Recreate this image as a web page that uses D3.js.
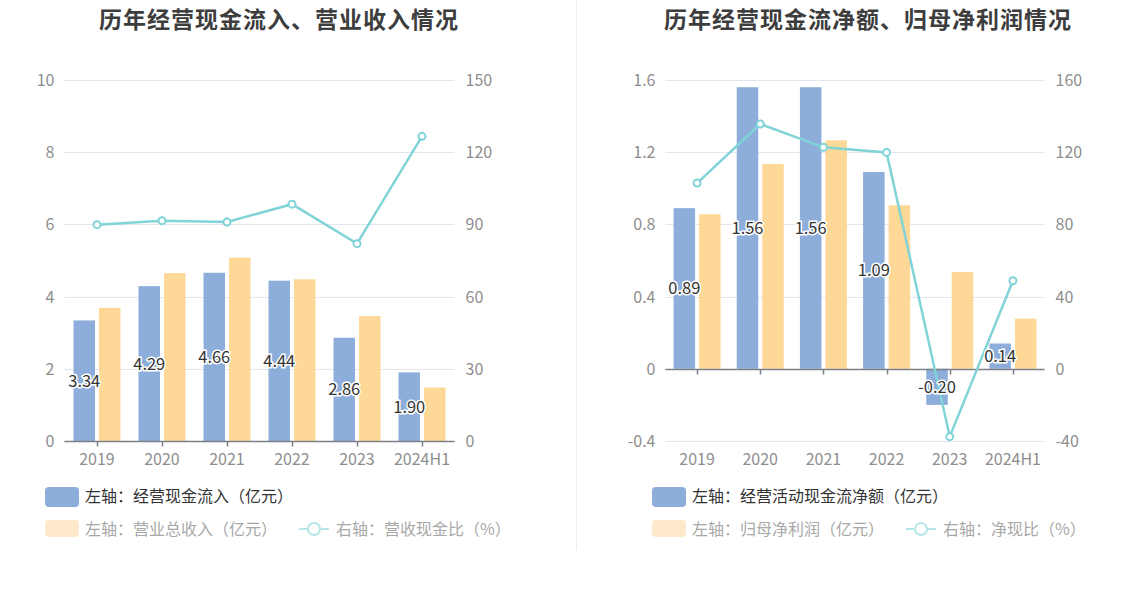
<!DOCTYPE html>
<html>
<head>
<meta charset="utf-8">
<script src="https://cdn.jsdelivr.net/npm/d3@7"></script>
<style>
  body { margin: 0; background: #fff; }
  svg { display: block; font-family: "Noto Sans CJK SC", "Noto Sans", sans-serif; }
</style>
</head>
<body>
<svg id="chart" width="1147" height="589"></svg>
<script>
// =============================
// Data
// =============================
const years = ["2019", "2020", "2021", "2022", "2023", "2024H1"];

// left chart
const cashInflow = [3.34, 4.29, 4.66, 4.44, 2.86, 1.90];
const revenue = [3.69, 4.65, 5.08, 4.48, 3.46, 1.48];
const cashRatio = [89.9, 91.5, 91.0, 98.4, 82.0, 126.6];

// right chart
const netCashFlow = [0.89, 1.56, 1.56, 1.09, -0.20, 0.14];
const netProfit = [0.856, 1.135, 1.266, 0.906, 0.536, 0.278];
const netCashRatio = [102.9, 135.6, 122.7, 119.9, -37.6, 48.8];

const leftTicks = [0, 2, 4, 6, 8, 10];
const leftRightTicks = [0, 30, 60, 90, 120, 150];
const rightTicks = [-0.4, 0, 0.4, 0.8, 1.2, 1.6];
const rightRightTicks = [-40, 0, 40, 80, 120, 160];

const BLUE = "#8dadda";
const YELLOW = "#fed897";
const TEAL = "#80d3d6";

const svg = d3.select("#chart");

// divider
svg.append("line")
    .attr("x1", 576.5).attr("x2", 576.5)
    .attr("y1", 0).attr("y2", 550)
    .attr("stroke", "#eeeeee");

function drawChart(opt) {
    const g = svg.append("g");

    g.append("text")
        .attr("x", opt.titleX).attr("y", 28)
        .attr("text-anchor", "middle")
        .attr("font-size", 23)
        .attr("letter-spacing", 1)
        .attr("font-weight", "bold")
        .attr("fill", "#3d3d3d")
        .text(opt.title);

    const x = d3.scaleBand()
        .domain(years)
        .range([opt.x0, opt.x1]);

    const y = d3.scaleLinear()
        .domain(d3.extent(opt.ticks))
        .range([441, 80]);

    const y2 = d3.scaleLinear()
        .domain(d3.extent(opt.ticks2))
        .range([441, 80]);

    // grid
    g.append("g")
        .selectAll("line")
        .data(opt.ticks)
        .enter()
        .append("line")
        .attr("x1", opt.x0).attr("x2", opt.x1)
        .attr("y1", d => Math.round(y(d)) + 0.5)
        .attr("y2", d => Math.round(y(d)) + 0.5)
        .attr("stroke", "#e1e5f0");

    // left axis labels
    g.append("g")
        .selectAll("text")
        .data(opt.ticks)
        .enter()
        .append("text")
        .attr("x", opt.x0 - 10)
        .attr("y", d => y(d) + 6)
        .attr("text-anchor", "end")
        .attr("font-size", 16)
        .attr("fill", "#8e8e8e")
        .text(d => d);

    // right axis labels
    g.append("g")
        .selectAll("text")
        .data(opt.ticks2)
        .enter()
        .append("text")
        .attr("x", opt.x1 + 11)
        .attr("y", d => y2(d) + 6)
        .attr("text-anchor", "start")
        .attr("font-size", 16)
        .attr("fill", "#8e8e8e")
        .text(d => d);

    const bw = 21.5;
    const cx = d => x(d) + x.bandwidth() / 2;

    // bars
    g.append("g")
        .selectAll("rect")
        .data(years)
        .enter()
        .append("rect")
        .attr("x", d => cx(d) - 2 - bw)
        .attr("width", bw)
        .attr("y", (d, i) => Math.min(y(opt.bars1[i]), y(0)))
        .attr("height", (d, i) => Math.abs(y(opt.bars1[i]) - y(0)))
        .attr("fill", BLUE);

    g.append("g")
        .selectAll("rect")
        .data(years)
        .enter()
        .append("rect")
        .attr("x", d => cx(d) + 2)
        .attr("width", bw)
        .attr("y", (d, i) => Math.min(y(opt.bars2[i]), y(0)))
        .attr("height", (d, i) => Math.abs(y(opt.bars2[i]) - y(0)))
        .attr("fill", YELLOW);

    // x axis line at zero
    const zy = Math.round(y(0)) + 0.5;
    g.append("line")
        .attr("x1", opt.x0).attr("x2", opt.x1)
        .attr("y1", zy).attr("y2", zy)
        .attr("stroke", "#7d7f86")
        .attr("stroke-width", 1.5);

    g.append("g")
        .selectAll("line")
        .data(years)
        .enter()
        .append("line")
        .attr("x1", d => Math.round(cx(d)) + 0.5)
        .attr("x2", d => Math.round(cx(d)) + 0.5)
        .attr("y1", zy).attr("y2", zy + 5)
        .attr("stroke", "#7d7f86")
        .attr("stroke-width", 1.5);

    // x labels
    g.append("g")
        .selectAll("text")
        .data(years)
        .enter()
        .append("text")
        .attr("x", d => cx(d))
        .attr("y", 465)
        .attr("text-anchor", "middle")
        .attr("font-size", 16)
        .attr("fill", "#8e8e8e")
        .text(d => d);

    // line
    const line = d3.line()
        .x((d, i) => cx(years[i]))
        .y(d => y2(d));

    g.append("path")
        .datum(opt.line)
        .attr("d", line)
        .attr("fill", "none")
        .attr("stroke", TEAL)
        .attr("stroke-width", 2.5);

    g.append("g")
        .selectAll("circle")
        .data(opt.line)
        .enter()
        .append("circle")
        .attr("cx", (d, i) => cx(years[i]))
        .attr("cy", d => y2(d))
        .attr("r", 3.5)
        .attr("fill", "#fff")
        .attr("stroke", TEAL)
        .attr("stroke-width", 2);

    // bar labels
    g.append("g")
        .selectAll("text")
        .data(opt.bars1)
        .enter()
        .append("text")
        .attr("x", (d, i) => cx(years[i]) - 2 - bw / 2)
        .attr("y", d => (y(d) + y(0)) / 2 + 6)
        .attr("text-anchor", "middle")
        .attr("font-size", 16.5)
        .attr("fill", "#333")
        .attr("stroke", "#fff")
        .attr("stroke-width", 3)
        .attr("paint-order", "stroke")
        .text(d => d.toFixed(2));

    // legend
    const lx = opt.legendX;
    g.append("rect")
        .attr("x", lx).attr("y", 487)
        .attr("width", 34).attr("height", 20)
        .attr("rx", 4)
        .attr("fill", BLUE);
    g.append("text")
        .attr("x", lx + 40).attr("y", 502)
        .attr("font-size", 16)
        .attr("fill", "#333")
        .text(opt.legend[0]);

    g.append("rect")
        .attr("x", lx).attr("y", 520)
        .attr("width", 34).attr("height", 17)
        .attr("rx", 4)
        .attr("fill", "#feeacb");
    const t2 = g.append("text")
        .attr("x", lx + 40).attr("y", 535)
        .attr("font-size", 16)
        .attr("fill", "#a8a8a8")
        .text(opt.legend[1]);

    const w2 = t2.node().getComputedTextLength();
    const ix = lx + 40 + w2 + 22;
    g.append("line")
        .attr("x1", ix).attr("x2", ix + 30)
        .attr("y1", 529).attr("y2", 529)
        .attr("stroke", "#b5e6e8")
        .attr("stroke-width", 2);
    g.append("circle")
        .attr("cx", ix + 15).attr("cy", 529)
        .attr("r", 6)
        .attr("fill", "#fff")
        .attr("stroke", "#b5e6e8")
        .attr("stroke-width", 2);
    g.append("text")
        .attr("x", ix + 37).attr("y", 535)
        .attr("font-size", 16)
        .attr("fill", "#a8a8a8")
        .text(opt.legend[2]);
}

drawChart({
    title: "历年经营现金流入、营业收入情况",
    titleX: 279,
    x0: 64.5, x1: 454.5,
    ticks: leftTicks, ticks2: leftRightTicks,
    bars1: cashInflow, bars2: revenue, line: cashRatio,
    legendX: 45,
    legend: ["左轴：经营现金流入（亿元）", "左轴：营业总收入（亿元）", "右轴：营收现金比（%）"]
});

drawChart({
    title: "历年经营现金流净额、归母净利润情况",
    titleX: 868,
    x0: 665.5, x1: 1044.5,
    ticks: rightTicks, ticks2: rightRightTicks,
    bars1: netCashFlow, bars2: netProfit, line: netCashRatio,
    legendX: 652,
    legend: ["左轴：经营活动现金流净额（亿元）", "左轴：归母净利润（亿元）", "右轴：净现比（%）"]
});
</script>
</body>
</html>
